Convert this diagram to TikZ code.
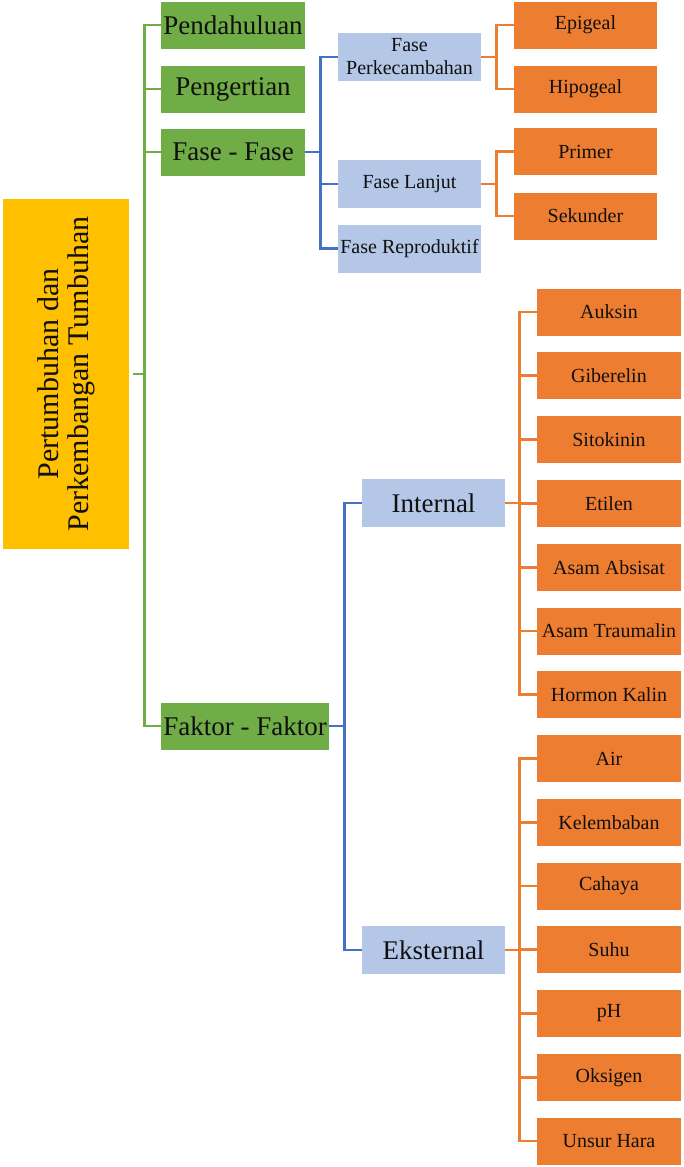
\documentclass[tikz,border=0pt]{standalone}
\usepackage{fontspec}
\setmainfont{Liberation Serif}
\definecolor{cGreen}{HTML}{70AD47}
\definecolor{cBlue}{HTML}{B4C7E7}
\definecolor{cBlueLine}{HTML}{4472C4}
\definecolor{cOrange}{HTML}{ED7D31}
\definecolor{cGold}{HTML}{FFC000}
\definecolor{cText}{HTML}{101010}
\begin{document}
\begin{tikzpicture}[x=1pt,y=-1pt,
  base/.style={inner sep=0pt, align=center, text=cText},
  rootbox/.style={base, fill=cGold, minimum width=350pt, minimum height=126pt, font=\fontsize{30}{30}\selectfont},
  gbox/.style={base, fill=cGreen, minimum width=144pt, minimum height=47pt, font=\fontsize{27}{29}\selectfont},
  bbox/.style={base, fill=cBlue, minimum width=143pt, minimum height=48pt, font=\fontsize{20}{23}\selectfont},
  bigbbox/.style={bbox, font=\fontsize{27}{29}\selectfont},
  obox/.style={base, fill=cOrange, minimum width=144pt, minimum height=47pt, font=\fontsize{20}{22}\selectfont},
  gl/.style={draw=cGreen, line width=2.7pt},
  bl/.style={draw=cBlueLine, line width=2.7pt},
  ol/.style={draw=cOrange, line width=2.7pt}]
\useasboundingbox (0,0) rectangle (683,1167);

% root
\node[rootbox, rotate=90] (root) at (66,374) {Pertumbuhan dan\\Perkembangan Tumbuhan};

% level 1
\node[gbox] (pend) at (233,25) {Pendahuluan};
\node[gbox] (peng) at (233,89) {Pengertian};
\node[gbox] (fase) at (233,152) {Fase - Fase};
\node[gbox, minimum width=168pt] (fakt) at (245,726) {Faktor - Faktor};

% level 2
\node[bbox] (perk) at (409.5,57) {Fase\\Perkecambahan};
\node[bbox] (lanjut) at (409.5,184) {Fase Lanjut};
\node[bbox] (repro) at (409.5,248.5) {Fase Reproduktif};
\node[bigbbox] (internal) at (433.5,503) {Internal};
\node[bigbbox] (eksternal) at (433.5,950) {Eksternal};

% level 3 (phases)
\node[obox, minimum width=143pt] (epi) at (585.5,25) {Epigeal};
\node[obox, minimum width=143pt] (hipo) at (585.5,89) {Hipogeal};
\node[obox, minimum width=143pt] (prim) at (585.5,151.5) {Primer};
\node[obox, minimum width=143pt] (sek) at (585.5,216) {Sekunder};

% level 3 (factors)
\foreach \t [count=\i] in {Auksin,Giberelin,Sitokinin,Etilen,Asam Absisat,Asam Traumalin,Hormon Kalin}
  \node[obox] (i\i) at (609,{312+63.8*(\i-1)}) {\t};
\foreach \t [count=\i] in {Air,Kelembaban,Cahaya,Suhu,pH,Oksigen,Unsur Hara}
  \node[obox] (e\i) at (609,{758.5+63.75*(\i-1)}) {\t};

% green connectors
\draw[gl] (pend.west) -- ++(-16,0) |- (fakt.west);
\draw[gl] (peng.west) -- ++(-16,0);
\draw[gl] (fase.west) -- ++(-16,0);
\draw[gl] ([xshift=4pt]root.south) -- ([xshift=-16pt]pend.west |- root.south);

% blue connectors
\draw[bl] (perk.west) -- ++(-17,0) |- (repro.west);
\draw[bl] (lanjut.west) -- ++(-17,0);
\draw[bl] (fase.east) -- ([xshift=-17pt]perk.west |- fase.east);
\draw[bl] (internal.west) -- ++(-17,0) |- (eksternal.west);
\draw[bl] (fakt.east) -- ([xshift=-17pt]internal.west |- fakt.east);

% orange connectors
\draw[ol] (epi.west) -- ++(-17,0) |- (hipo.west);
\draw[ol] (perk.east) -- ([xshift=-17pt]epi.west |- perk.east);
\draw[ol] (prim.west) -- ++(-17,0) |- (sek.west);
\draw[ol] (lanjut.east) -- ([xshift=-17pt]prim.west |- lanjut.east);
\draw[ol] (i1.west) -- ++(-17,0) |- (i7.west);
\foreach \i in {2,...,6} \draw[ol] (i\i.west) -- ++(-17,0);
\draw[ol] (internal.east) -- ([xshift=-17pt]i1.west |- internal.east);
\draw[ol] (e1.west) -- ++(-17,0) |- (e7.west);
\foreach \i in {2,...,6} \draw[ol] (e\i.west) -- ++(-17,0);
\draw[ol] (eksternal.east) -- ([xshift=-17pt]e1.west |- eksternal.east);
\end{tikzpicture}
\end{document}
